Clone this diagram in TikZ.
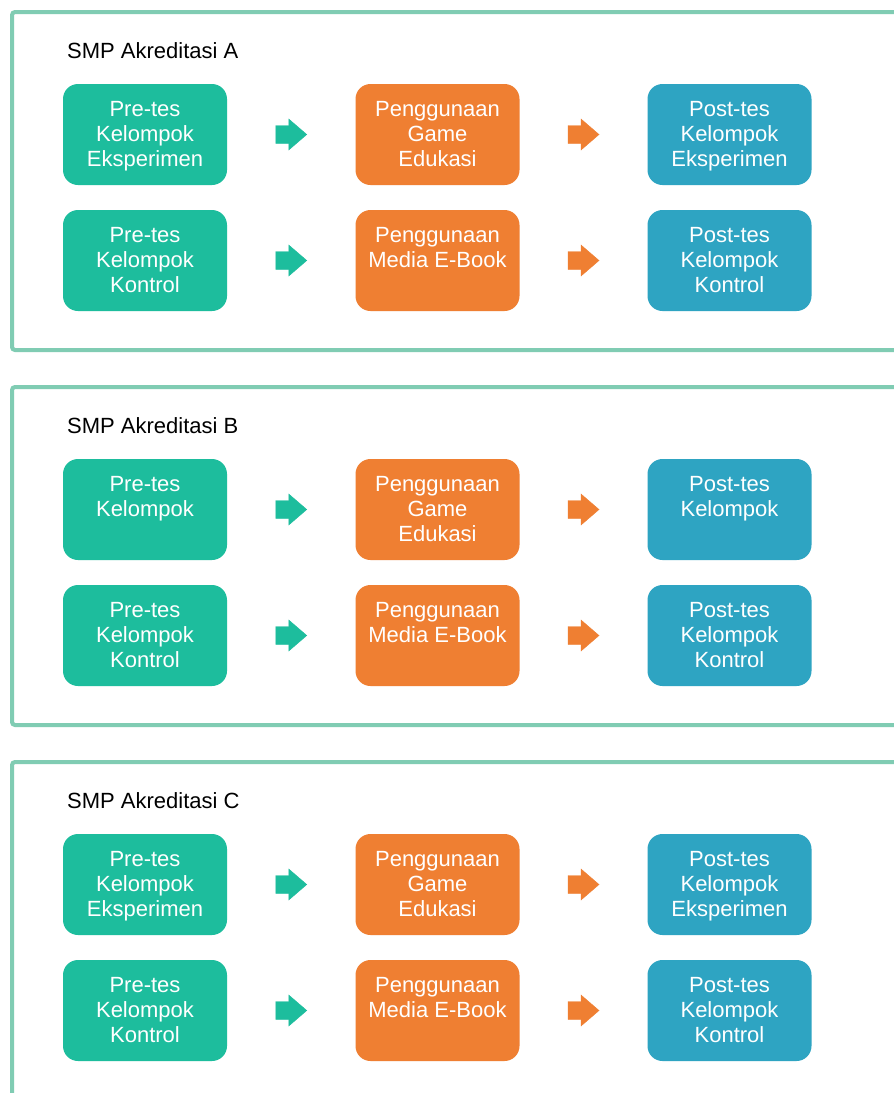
\documentclass[tikz,border=0pt]{standalone}
\usepackage{fontspec}
\setmainfont{Liberation Sans}
\usetikzlibrary{calc}
\definecolor{cgreen}{HTML}{1DBD9D}
\definecolor{corange}{HTML}{EF7F32}
\definecolor{cblue}{HTML}{2EA4C2}
\definecolor{cframe}{HTML}{80CCB3}
\tikzset{
  box/.style={draw=none,rounded corners=15pt,minimum width=164pt,minimum height=101pt,inner sep=0pt},
  lbl/.style={anchor=north,inner sep=0pt,align=center,text=white,font=\fontsize{22}{25}\selectfont},
  ttl/.style={anchor=base west,inner sep=0pt,font=\fontsize{22}{25}\selectfont},
  frm/.style={draw=cframe,line width=4pt,rounded corners=3pt},
  arr/.style={fill=#1,draw=#1,line width=0.4pt,line join=miter}
}
% block arrow centred at a named coordinate
\newcommand\blockarrow[2]{%
  \filldraw[arr=#2] ($(#1)+(-15.5,-9)$) -- ($(#1)+(-2.5,-9)$) -- ($(#1)+(-2.5,-15.5)$)
    -- ($(#1)+(15.5,0)$) -- ($(#1)+(-2.5,15.5)$) -- ($(#1)+(-2.5,9)$) -- ($(#1)+(-15.5,9)$) -- cycle;}
\newcommand\smpgroup[4]{%
  \draw[frm] (12,#2) rectangle (912,#2+338);
  \node[ttl] (t#1) at (67,#2+46) {SMP Akreditasi #1};
  % row 1
  \node[box,fill=cgreen]  (p#1a) at (145,#2+122.5) {};
  \node[box,fill=corange] (g#1a) at (437.5,#2+122.5) {};
  \node[box,fill=cblue]   (q#1a) at (729.5,#2+122.5) {};
  \node[lbl] (p#1at) at ($(p#1a.north)+(0,17)$) {#3};
  \node[lbl] (g#1at) at ($(g#1a.north)+(0,17)$) {Penggunaan\\Game\\Edukasi};
  \node[lbl] (q#1at) at ($(q#1a.north)+(0,17)$) {#4};
  \coordinate (x#1a) at ($(p#1a.east)!0.5!(g#1a.west)$);
  \coordinate (y#1a) at ($(g#1a.east)!0.5!(q#1a.west)$);
  \blockarrow{x#1a}{cgreen}
  \blockarrow{y#1a}{corange}
  % row 2
  \node[box,fill=cgreen]  (p#1b) at (145,#2+248.5) {};
  \node[box,fill=corange] (g#1b) at (437.5,#2+248.5) {};
  \node[box,fill=cblue]   (q#1b) at (729.5,#2+248.5) {};
  \node[lbl] (p#1bt) at ($(p#1b.north)+(0,17)$) {Pre-tes\\Kelompok\\Kontrol};
  \node[lbl] (g#1bt) at ($(g#1b.north)+(0,17)$) {Penggunaan\\Media E-Book};
  \node[lbl] (q#1bt) at ($(q#1b.north)+(0,17)$) {Post-tes\\Kelompok\\Kontrol};
  \coordinate (x#1b) at ($(p#1b.east)!0.5!(g#1b.west)$);
  \coordinate (y#1b) at ($(g#1b.east)!0.5!(q#1b.west)$);
  \blockarrow{x#1b}{cgreen}
  \blockarrow{y#1b}{corange}
}
\begin{document}
\begin{tikzpicture}[x=1pt,y=-1pt]
\useasboundingbox (0,0) rectangle (894,1093);
\clip (0,0) rectangle (894,1093);
\fill[white] (0,0) rectangle (894,1093);
\smpgroup{A}{12}{Pre-tes\\Kelompok\\Eksperimen}{Post-tes\\Kelompok\\Eksperimen}
\smpgroup{B}{387}{Pre-tes\\Kelompok}{Post-tes\\Kelompok}
\smpgroup{C}{762}{Pre-tes\\Kelompok\\Eksperimen}{Post-tes\\Kelompok\\Eksperimen}
\end{tikzpicture}
\end{document}
